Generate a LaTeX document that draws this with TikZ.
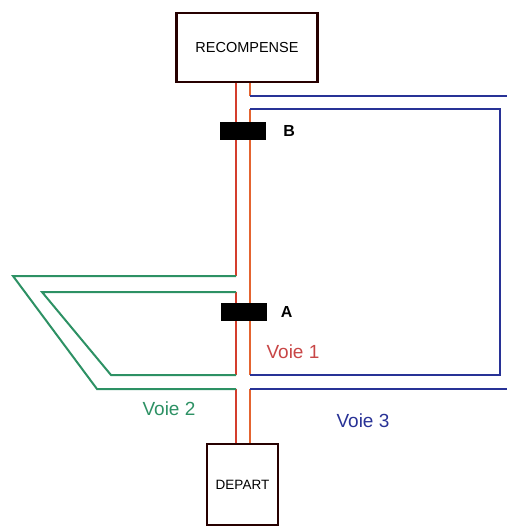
\documentclass[tikz,border=0pt]{standalone}
\usepackage{fontspec}
\setmainfont{Liberation Sans}
\usetikzlibrary{positioning}
\definecolor{rouge}{RGB}{212,62,45}
\definecolor{orange}{RGB}{228,100,48}
\definecolor{vert}{RGB}{45,145,100}
\definecolor{bleu}{RGB}{40,50,150}
\definecolor{texterouge}{RGB}{200,70,70}
\begin{document}
\begin{tikzpicture}[x=1pt,y=-1pt,
  boite/.style={draw=black!85!red,line width=2.2pt,fill=white,inner sep=0pt},
  barre/.style={fill=black,inner sep=0pt,minimum width=46pt,minimum height=18pt},
  lettre/.style={font=\fontsize{16}{16}\selectfont\bfseries,inner sep=0pt},
  nomvoie/.style={font=\fontsize{19}{19}\selectfont,inner sep=0pt},
  voieA/.style={rouge,line width=2pt},
  voieB/.style={orange,line width=2pt},
  voieV/.style={vert,line width=2pt},
  voieC/.style={bleu,line width=2pt}]
\useasboundingbox (0,0) rectangle (507,528);
% les deux boites
\node[boite,minimum width=141pt,minimum height=69pt] (rec) at (247,47.5)
  {\fontsize{14.5}{14.5}\selectfont RECOMPENSE};
\node[boite,minimum width=71pt,minimum height=81pt] (dep) at (242.5,484.5)
  {\fontsize{13.5}{13.5}\selectfont DEPART};
\coordinate (g) at (236,0);
\coordinate (d) at (250,0);
% voie 1
\draw[voieA] (g |- rec.south) -- (236,276);
\draw[voieA] (236,292) -- (236,375);
\draw[voieA] (236,389) -- (g |- dep.north);
\draw[voieB] (d |- rec.south) -- (250,96);
\draw[voieB] (250,109) -- (250,375);
\draw[voieB] (250,389) -- (d |- dep.north);
% voie 2
\draw[voieV] (236,276) -- (13,276) -- (97,389) -- (236,389);
\draw[voieV] (236,292) -- (42,292) -- (111,375) -- (236,375);
% voie 3
\draw[voieC] (250,96) -- (507,96);
\draw[voieC] (250,109) -- (500,109) -- (500,375) -- (250,375);
\draw[voieC] (250,389) -- (507,389);
% barrieres
\node[barre] (barB) at (243,131) {};
\node[barre] (barA) at (243.5,312) {};
\node[lettre,right=17pt of barB] (B) {B};
\node[lettre,right=14pt of barA] (A) {A};
\node[nomvoie,texterouge] (v1) at (293,352) {Voie 1};
\node[nomvoie,vert] (v2) at (169,409) {Voie 2};
\node[nomvoie,bleu] (v3) at (363,421) {Voie 3};
\end{tikzpicture}
\end{document}
